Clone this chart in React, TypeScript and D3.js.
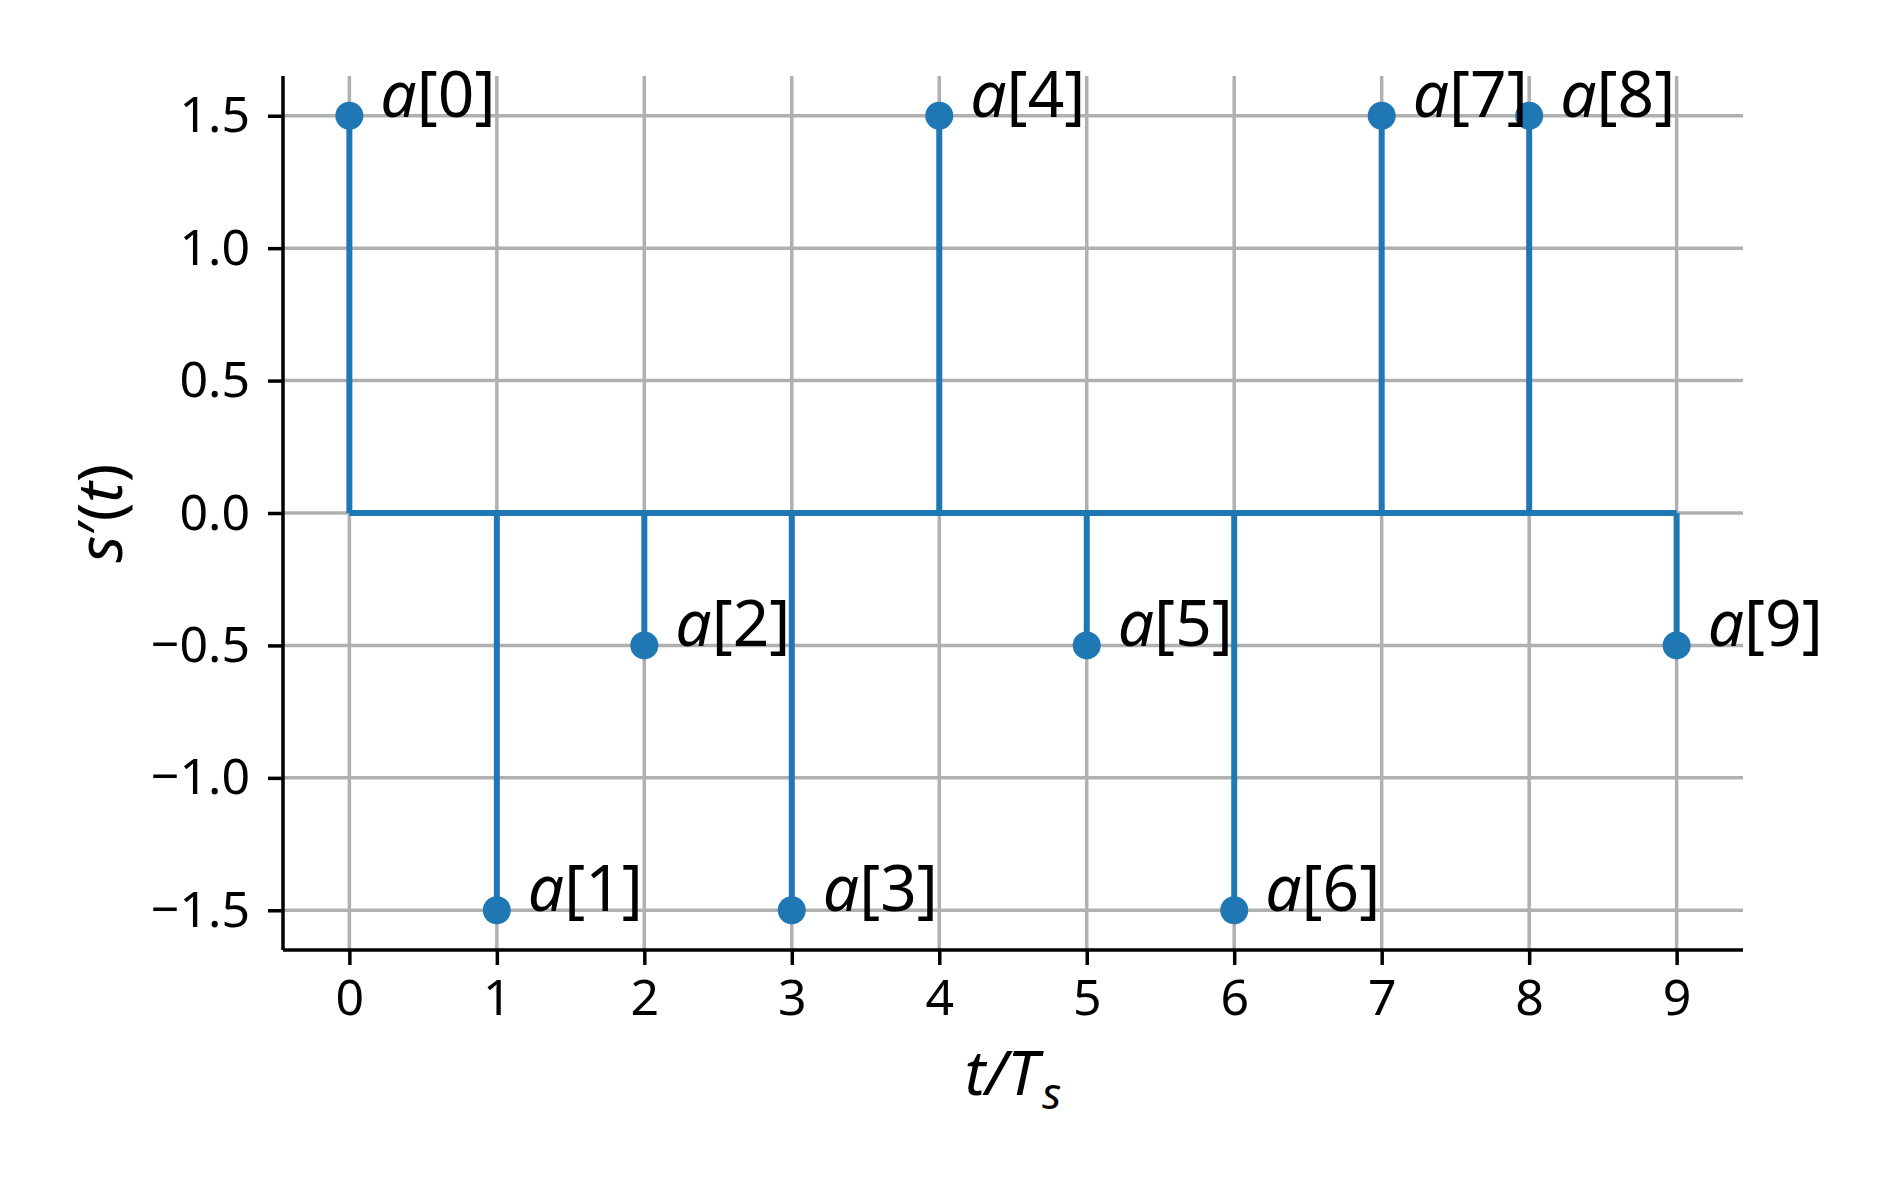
import { useEffect, useRef } from "react";
import * as d3 from "d3";

const samples = [0, 1, 2, 3, 4, 5, 6, 7, 8, 9];
const values = [1.5, -1.5, -0.5, -1.5, 1.5, -0.5, -1.5, 1.5, 1.5, -0.5];
const xTicks = [0, 1, 2, 3, 4, 5, 6, 7, 8, 9];
const yTicks = [-1.5, -1.0, -0.5, 0.0, 0.5, 1.0, 1.5];

const BLUE = "#1f77b4";
const FONT = "'Noto Sans', 'Open Sans', sans-serif";

function Chart() {
  const ref = useRef<SVGSVGElement | null>(null);

  useEffect(() => {
    const width = 1889;
    const height = 1181;
    const margin = { top: 76, right: 146, bottom: 231, left: 283 };
    const innerW = width - margin.left - margin.right;
    const innerH = height - margin.top - margin.bottom;

    const root = d3.select(ref.current);
    root.selectAll("*").remove();

    const svg = root
      .append("g")
      .attr("transform", `translate(${margin.left}, ${margin.top})`);

    const xScale = d3.scaleLinear().domain([-0.45, 9.45]).range([0, innerW]);
    const yScale = d3.scaleLinear().domain([-1.65, 1.65]).range([innerH, 0]);

    // grid
    svg
      .append("g")
      .selectAll("line")
      .data(xTicks)
      .join("line")
      .attr("x1", (d) => xScale(d))
      .attr("x2", (d) => xScale(d))
      .attr("y1", 0)
      .attr("y2", innerH)
      .attr("stroke", "#b0b0b0")
      .attr("stroke-width", 3.5);
    svg
      .append("g")
      .selectAll("line")
      .data(yTicks)
      .join("line")
      .attr("x1", 0)
      .attr("x2", innerW)
      .attr("y1", (d) => yScale(d))
      .attr("y2", (d) => yScale(d))
      .attr("stroke", "#b0b0b0")
      .attr("stroke-width", 3.5);

    // axes
    const xAxis = svg
      .append("g")
      .attr("transform", `translate(0, ${innerH})`)
      .call(
        d3
          .axisBottom(xScale)
          .tickValues(xTicks)
          .tickFormat(d3.format("d"))
          .tickSize(15)
          .tickPadding(14)
          .tickSizeOuter(0)
      );
    const yAxis = svg
      .append("g")
      .call(
        d3
          .axisLeft(yScale)
          .tickValues(yTicks)
          .tickFormat(d3.format(".1f"))
          .tickSize(15)
          .tickPadding(18)
          .tickSizeOuter(0)
      );
    [xAxis, yAxis].forEach((ax) => {
      ax.select(".domain").attr("stroke", "#000").attr("stroke-width", 3.5);
      ax.selectAll(".tick line").attr("stroke", "#000").attr("stroke-width", 3.5);
      ax.selectAll(".tick text")
        .attr("fill", "#000")
        .style("font-family", FONT)
        .style("font-size", "50px");
    });
    yAxis.select(".domain").attr("d", `M0,0V${innerH}`);
    xAxis.select(".domain").attr("d", `M0,0H${innerW}`);

    // baseline
    svg
      .append("line")
      .attr("x1", xScale(samples[0]))
      .attr("x2", xScale(samples[samples.length - 1]))
      .attr("y1", yScale(0))
      .attr("y2", yScale(0))
      .attr("stroke", BLUE)
      .attr("stroke-width", 6);

    // stems
    svg
      .append("g")
      .selectAll("line")
      .data(samples)
      .join("line")
      .attr("x1", (d) => xScale(d))
      .attr("x2", (d) => xScale(d))
      .attr("y1", yScale(0))
      .attr("y2", (d, i) => yScale(values[i]))
      .attr("stroke", BLUE)
      .attr("stroke-width", 6);

    // markers
    svg
      .append("g")
      .selectAll("circle")
      .data(samples)
      .join("circle")
      .attr("cx", (d) => xScale(d))
      .attr("cy", (d, i) => yScale(values[i]))
      .attr("r", 14)
      .attr("fill", BLUE);

    // annotations a[n]
    const ann = svg
      .append("g")
      .selectAll("text")
      .data(samples)
      .join("text")
      .attr("x", (d) => xScale(d) + 31)
      .attr("y", (d, i) => yScale(values[i]) + 1)
      .style("font-family", FONT)
      .style("font-size", "64px")
      .attr("fill", "#000");
    ann.append("tspan").style("font-style", "italic").text("a");
    ann.append("tspan").text((d) => `[${d}]`);

    // axis labels
    const xl = svg
      .append("text")
      .attr("x", innerW / 2)
      .attr("y", 1095 - margin.top)
      .attr("text-anchor", "middle")
      .style("font-family", FONT)
      .style("font-size", "62px")
      .style("font-style", "italic")
      .attr("fill", "#000");
    xl.append("tspan").text("t/T");
    xl.append("tspan").attr("dx", 4).attr("dy", 14).style("font-size", "44px").text("s");

    const yl = svg
      .append("text")
      .attr("transform", `translate(${122 - margin.left}, ${innerH / 2}) rotate(-90)`)
      .attr("text-anchor", "middle")
      .style("font-family", FONT)
      .style("font-size", "62px")
      .attr("fill", "#000");
    yl.append("tspan").style("font-style", "italic").text("s");
    yl.append("tspan").text("′(");
    yl.append("tspan").style("font-style", "italic").text("t");
    yl.append("tspan").text(")");
  }, []);

  return (
    <svg
      ref={ref}
      width={1889}
      height={1181}
      style={{ position: "absolute", left: 0, top: 0, background: "#fff" }}
    />
  );
}

export default function App() {
  return <Chart />;
}
